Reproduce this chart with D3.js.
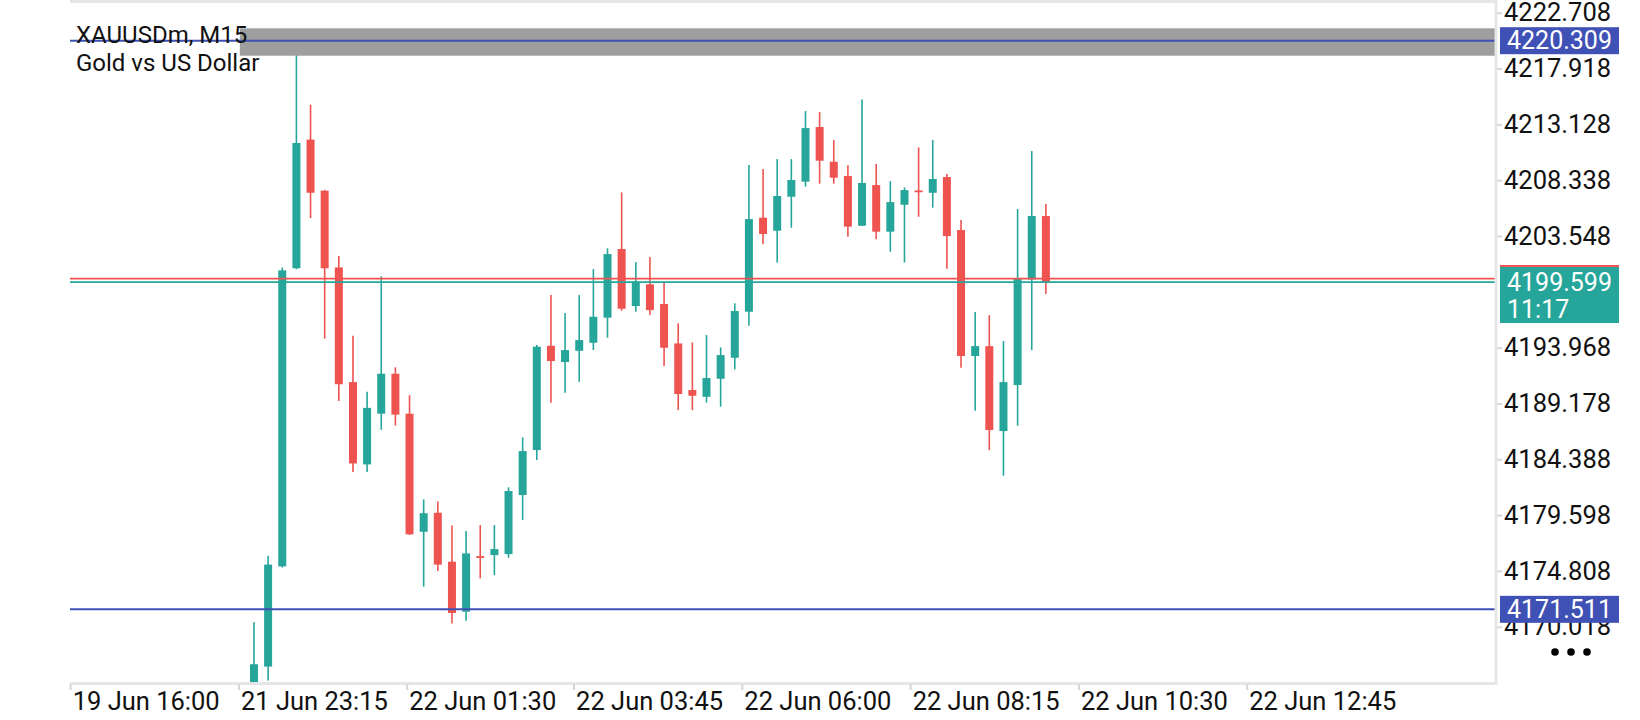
<!DOCTYPE html>
<html>
<head>
<meta charset="utf-8">
<script src="https://cdn.jsdelivr.net/npm/d3@7/dist/d3.min.js"></script>
<style>
  body { margin: 0; background: #fff; }
  svg text { font-family: Roboto, "Noto Sans", sans-serif; }
</style>
</head>
<body>
<div id="chart"></div>
<script>
/******************************************************************************/
/*  Data                                                                      */
/******************************************************************************/

// XAUUSDm M15 bars, oldest first
var opens  = [4164.00, 4166.60, 4175.20, 4200.78, 4211.82, 4207.44, 4200.85, 4191.01, 4183.95, 4188.30,
              4191.73, 4188.30, 4178.17, 4179.80, 4175.60, 4171.31, 4176.08, 4176.17, 4176.25, 4181.32,
              4185.18, 4194.13, 4192.73, 4193.70, 4194.39, 4196.54, 4202.43, 4197.54, 4199.40, 4197.71,
              4194.33, 4190.33, 4189.75, 4191.30, 4193.10, 4197.05, 4205.12, 4204.00, 4206.92, 4208.21,
              4212.90, 4209.92, 4208.69, 4204.43, 4207.92, 4203.92, 4206.23, 4207.46, 4207.26, 4208.61,
              4204.06, 4193.25, 4194.10, 4186.81, 4190.76, 4199.82, 4205.26];
var highs  = [4170.40, 4176.10, 4200.85, 4219.30, 4214.82, 4207.50, 4201.83, 4194.99, 4190.18, 4200.09,
              4192.28, 4189.89, 4180.95, 4180.77, 4178.70, 4178.23, 4178.74, 4178.74, 4181.98, 4186.27,
              4194.19, 4198.48, 4196.94, 4198.48, 4200.71, 4202.49, 4207.29, 4201.31, 4201.74, 4199.63,
              4196.05, 4194.42, 4195.05, 4193.99, 4197.77, 4209.64, 4209.30, 4210.15, 4210.15, 4214.27,
              4214.19, 4211.78, 4209.61, 4215.27, 4209.72, 4208.26, 4207.72, 4211.15, 4211.78, 4208.86,
              4204.92, 4197.02, 4196.76, 4194.53, 4205.86, 4210.84, 4206.29];
var lows   = [4163.00, 4165.40, 4175.10, 4200.70, 4205.09, 4194.74, 4189.38, 4183.30, 4183.30, 4186.92,
              4187.28, 4177.90, 4173.46, 4174.80, 4170.30, 4170.53, 4174.17, 4174.45, 4175.94, 4179.17,
              4184.32, 4189.24, 4190.10, 4191.04, 4193.76, 4194.82, 4197.14, 4197.05, 4196.76, 4192.39,
              4188.61, 4188.61, 4189.24, 4188.90, 4192.10, 4195.85, 4202.86, 4201.26, 4204.26, 4207.78,
              4208.04, 4208.04, 4203.49, 4204.40, 4203.26, 4202.20, 4201.28, 4205.20, 4205.98, 4200.74,
              4192.24, 4188.55, 4185.18, 4182.98, 4187.27, 4193.76, 4198.57];
var closes = [4166.80, 4175.35, 4200.60, 4211.53, 4207.26, 4200.78, 4190.83, 4184.03, 4188.80, 4191.73,
              4188.22, 4177.95, 4179.76, 4175.35, 4171.20, 4176.31, 4175.94, 4176.68, 4181.66, 4185.09,
              4194.05, 4192.82, 4193.76, 4194.62, 4196.62, 4202.00, 4197.31, 4199.63, 4197.19, 4193.96,
              4189.99, 4189.84, 4191.36, 4193.33, 4197.11, 4205.00, 4203.72, 4206.98, 4208.35, 4212.81,
              4210.01, 4208.55, 4204.35, 4208.10, 4203.92, 4206.46, 4207.49, 4207.35, 4208.44, 4203.54,
              4193.25, 4194.10, 4186.90, 4191.01, 4199.91, 4205.26, 4199.60];

// Price scale labels (the one under the bid tag is not shown)
var priceTicks = [4222.708, 4217.918, 4213.128, 4208.338, 4203.548,
                  4193.968, 4189.178, 4184.388, 4179.598, 4174.808, 4170.018];

// Time scale labels and the bar position they sit on
var timeLabels   = ["19 Jun 16:00", "21 Jun 23:15", "22 Jun 01:30", "22 Jun 03:45",
                    "22 Jun 06:00", "22 Jun 08:15", "22 Jun 10:30", "22 Jun 12:45"];
var timeTickBars = [-13.0, -1.1, 10.8, 22.6, 34.5, 46.4, 58.3, 70.2];

// Horizontal levels, grey zone, bid / ask
var levelPrices  = [4220.309, 4171.511];
var zonePrices   = [4221.37, 4219.02];
var zoneStartBar = -1;
var bidPrice = 4199.599, askPrice = 4199.90, barTimeLeft = "11:17";

var symbolName = "XAUUSDm, M15",
    symbolDesc = "Gold vs US Dollar";


/******************************************************************************/
/*  Layout                                                                    */
/******************************************************************************/
var W = 1640, H = 720,
    plot = { left: 70, right: 1496, top: 2, bottom: 683 };

var UP = '#26a69a', DOWN = '#ef5350', LEVEL = '#3f51b5', FRAME = '#e6e6e6';
var AXIS_FONT = 25.5, TAG_FONT = 25;

var x = d3.scaleLinear().domain([-13.01, 87.83]).range([plot.left, plot.right]);
var y = d3.scaleLinear().domain([4165.19, 4223.63]).range([plot.bottom, plot.top]);

var svg = d3.select('#chart')
  .append('svg')
    .attr('width',  W)
    .attr('height', H)
    .style('display', 'block');

svg.append('rect').attr('width', W).attr('height', H).attr('fill', '#fff');

svg.append('clipPath').attr('id', 'plot-clip')
  .append('rect')
    .attr('x', plot.left).attr('y', plot.top)
    .attr('width', plot.right - plot.left).attr('height', plot.bottom - plot.top);

var pg = svg.append('g').attr('clip-path', 'url(#plot-clip)');


/******************************************************************************/
/*  Candles                                                                   */
/******************************************************************************/
var bars = d3.range(opens.length).map(function(i){
  return { i: i, o: opens[i], h: highs[i], l: lows[i], c: closes[i] };
});

var cg = pg.selectAll('g.candle').data(bars)
  .enter().append('g')
    .attr('class', 'candle')
    .attr('fill',   function(d){ return d.c >= d.o ? UP : DOWN; })
    .attr('stroke', function(d){ return d.c >= d.o ? UP : DOWN; });

cg.append('line')
  .attr('x1', function(d){ return x(d.i); })
  .attr('x2', function(d){ return x(d.i); })
  .attr('y1', function(d){ return y(d.h); })
  .attr('y2', function(d){ return y(d.l); })
  .attr('stroke-width', 1.6);

cg.append('rect')
  .attr('stroke', 'none')
  .attr('x', function(d){ return x(d.i) - 4; })
  .attr('width', 8)
  .attr('y', function(d){ return y(Math.max(d.o, d.c)); })
  .attr('height', function(d){ return Math.max(1.8, Math.abs(y(d.o) - y(d.c))); });


/******************************************************************************/
/*  Objects                                                                   */
/******************************************************************************/

// Grey zone
pg.append('rect')
  .attr('x', x(zoneStartBar))
  .attr('width', plot.right - x(zoneStartBar))
  .attr('y', y(zonePrices[0]))
  .attr('height', y(zonePrices[1]) - y(zonePrices[0]))
  .attr('fill', '#9e9e9e');

// Blue levels
pg.selectAll('line.level').data(levelPrices)
  .enter().append('line')
    .attr('class', 'level')
    .attr('x1', plot.left).attr('x2', plot.right)
    .attr('y1', function(d){ return y(d); })
    .attr('y2', function(d){ return y(d); })
    .attr('stroke', LEVEL)
    .attr('stroke-width', 2);

// Ask / bid lines
pg.selectAll('line.quote').data([{ p: askPrice, c: DOWN }, { p: bidPrice, c: UP }])
  .enter().append('line')
    .attr('class', 'quote')
    .attr('x1', plot.left).attr('x2', plot.right)
    .attr('y1', function(d){ return y(d.p); })
    .attr('y2', function(d){ return y(d.p); })
    .attr('stroke', function(d){ return d.c; })
    .attr('stroke-width', 1.8);

// Symbol caption
svg.append('text')
  .attr('x', 76).attr('y', 35).attr('dy', '0.35em')
  .attr('font-size', 24).attr('fill', '#111')
  .text(symbolName);

svg.append('text')
  .attr('x', 76).attr('y', 63).attr('dy', '0.35em')
  .attr('font-size', 24).attr('fill', '#111')
  .text(symbolDesc);


/******************************************************************************/
/*  Frame and axes                                                            */
/******************************************************************************/
svg.append('path')
  .attr('d', 'M' + plot.left + ',' + (plot.top - 0.5) + 'H' + plot.right +
             'V' + (plot.bottom + 0.5) + 'H' + plot.left)
  .attr('fill', 'none')
  .attr('stroke', FRAME)
  .attr('stroke-width', 3);

var yAxis = svg.append('g')
    .attr('transform', 'translate(' + (plot.right + 1) + ',0)')
    .call(d3.axisRight(y).tickValues(priceTicks).tickSize(5).tickPadding(2)
            .tickFormat(d3.format('.3f')));

var xAxis = svg.append('g')
    .attr('transform', 'translate(0,' + (plot.bottom + 1) + ')')
    .call(d3.axisBottom(x).tickValues(timeTickBars).tickSize(6).tickPadding(2)
            .tickFormat(function(d, i){ return timeLabels[i]; }));

[yAxis, xAxis].forEach(function(a){
  a.select('.domain').remove();
  a.selectAll('.tick line').attr('stroke', '#d6d6d6').attr('stroke-width', 2);
  a.selectAll('.tick text')
    .attr('font-family', 'Roboto, "Noto Sans", sans-serif')
    .attr('font-size', AXIS_FONT)
    .attr('fill', '#111');
});
xAxis.selectAll('.tick text').attr('text-anchor', 'start').attr('dx', 2);


/******************************************************************************/
/*  Price tags                                                                */
/******************************************************************************/
var tagX = 1500, tagW = 119, tagH = 27;

// Level tags
svg.selectAll('g.level-tag').data(levelPrices)
  .enter().append('g')
    .attr('class', 'level-tag')
    .each(function(d){
      var g = d3.select(this);
      g.append('rect')
        .attr('x', tagX).attr('y', y(d) - tagH / 2)
        .attr('width', tagW).attr('height', tagH)
        .attr('fill', LEVEL);
      g.append('text')
        .attr('x', tagX + 7).attr('y', y(d)).attr('dy', '0.35em')
        .attr('font-size', TAG_FONT).attr('fill', '#fff')
        .text(d3.format('.3f')(d));
    });

// Ask tag (mostly hidden) then bid tag with bar countdown
svg.append('rect')
  .attr('x', tagX).attr('y', y(askPrice) - tagH / 2)
  .attr('width', tagW).attr('height', tagH)
  .attr('fill', DOWN);

svg.append('rect')
  .attr('x', tagX).attr('y', y(bidPrice) - 15)
  .attr('width', tagW).attr('height', 56)
  .attr('fill', UP);

svg.append('text')
  .attr('x', tagX + 7).attr('y', y(bidPrice)).attr('dy', '0.35em')
  .attr('font-size', TAG_FONT).attr('fill', '#fff')
  .text(d3.format('.3f')(bidPrice));

svg.append('text')
  .attr('x', tagX + 7).attr('y', y(bidPrice) + 27.5).attr('dy', '0.35em')
  .attr('font-size', TAG_FONT).attr('fill', '#fff')
  .text(barTimeLeft);

// Menu dots
svg.selectAll('circle.menu').data([0, 1, 2])
  .enter().append('circle')
    .attr('class', 'menu')
    .attr('cx', function(d){ return 1555 + d * 16; })
    .attr('cy', 652)
    .attr('r', 3.8)
    .attr('fill', '#000');
</script>
</body>
</html>
